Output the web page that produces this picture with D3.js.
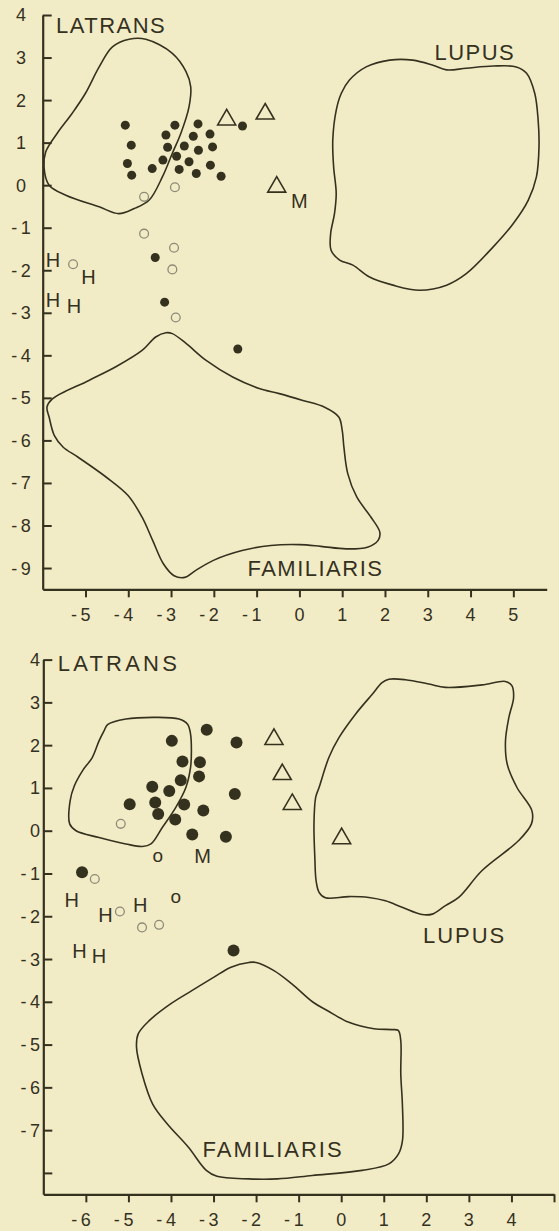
<!DOCTYPE html>
<html>
<head>
<meta charset="utf-8">
<script src="https://cdn.jsdelivr.net/npm/d3@7"></script>
<style>
  html, body { margin: 0; padding: 0; background: #f2ecc6; }
  svg { display: block; }
</style>
</head>
<body>
<svg id="chart" width="559" height="1231"></svg>
<script>
// ---------- Upper plot ----------
const upperXTicks = [-5, -4, -3, -2, -1, 0, 1, 2, 3, 4, 5];
const upperYTicks = [4, 3, 2, 1, 0, -1, -2, -3, -4, -5, -6, -7, -8, -9];

const upperFilled = [
  [-4.07, 1.41], [-3.93, 0.94], [-4.02, 0.51], [-3.92, 0.235], [-3.44, 0.39],
  [-3.19, 0.59], [-3.12, 1.18], [-2.91, 1.41], [-3.08, 0.89], [-2.87, 0.68],
  [-2.81, 0.37], [-2.69, 0.92], [-2.58, 0.55], [-2.48, 1.15], [-2.37, 1.44],
  [-2.36, 0.82], [-2.41, 0.275], [-2.09, 1.2], [-2.03, 0.9], [-2.08, 0.47],
  [-1.83, 0.21], [-1.33, 1.39],
  [-3.37, -1.70], [-3.15, -2.75], [-1.44, -3.85]
];
const upperOpen = [
  [-2.91, -0.05], [-3.63, -0.275], [-3.63, -1.14], [-2.93, -1.47],
  [-2.97, -1.98], [-2.89, -3.11], [-5.29, -1.86]
];
const upperTriangles = [[-1.70, 1.58], [-0.80, 1.72], [-0.53, 0.0]];
const upperLetters = [
  ["H", -5.76, -1.75], ["H", -4.93, -2.16], ["H", -5.76, -2.69], ["H", -5.27, -2.83],
  ["M", 0.0, -0.36]
];

const upperLatrans = [
  [-3.98, 3.43], [-3.59, 3.43], [-2.97, 3.10], [-2.65, 2.67], [-2.54, 2.31],
  [-2.58, 1.84], [-2.77, 1.22], [-2.97, 0.75], [-3.20, 0.20], [-3.51, -0.35],
  [-3.86, -0.55], [-4.22, -0.67], [-4.68, -0.51], [-5.46, -0.235], [-5.85, 0.0],
  [-5.97, 0.43], [-5.93, 0.78], [-5.66, 1.22], [-5.31, 1.69], [-5.0, 2.16],
  [-4.68, 2.78], [-4.37, 3.25]
];
const upperLupus = [
  [2.11, 2.94], [2.65, 2.94], [3.12, 2.82], [3.44, 2.71], [3.90, 2.75],
  [4.53, 2.80], [5.07, 2.78], [5.31, 2.63], [5.50, 2.16], [5.58, 1.53],
  [5.60, 0.90], [5.54, 0.195], [5.35, -0.35], [5.0, -0.90], [4.53, -1.45],
  [3.90, -2.08], [3.44, -2.35], [2.81, -2.47], [2.185, -2.35], [1.64, -2.16],
  [1.25, -1.88], [0.94, -1.76], [0.74, -1.53], [0.73, -1.14], [0.82, -0.67],
  [0.86, -0.195], [0.80, 0.43], [0.78, 1.06], [0.86, 1.76], [0.98, 2.16],
  [1.17, 2.47], [1.56, 2.78]
];
const upperFamiliaris = [
  [-5.90, -5.22], [-5.78, -5.03], [-4.92, -4.59], [-4.29, -4.27], [-3.67, -3.88],
  [-3.36, -3.57], [-3.12, -3.47], [-2.97, -3.49], [-2.65, -3.72], [-2.18, -4.12],
  [-1.56, -4.51], [-0.94, -4.78], [-0.47, -4.90], [0.08, -5.06], [0.59, -5.22],
  [0.92, -5.45], [1.0, -5.76], [1.04, -6.16], [1.13, -6.78], [1.34, -7.33],
  [1.67, -7.80], [1.88, -8.16], [1.84, -8.35], [1.59, -8.51], [1.09, -8.55],
  [0.50, -8.49], [0.0, -8.45], [-0.67, -8.47], [-1.34, -8.59], [-2.01, -8.82],
  [-2.43, -9.06], [-2.68, -9.22], [-2.93, -9.18], [-3.18, -8.90], [-3.43, -8.35],
  [-3.68, -7.80], [-4.01, -7.29], [-4.52, -6.86], [-5.18, -6.39], [-5.52, -6.16],
  [-5.73, -5.88], [-5.85, -5.45]
];
const upperNames = [
  ["LATRANS", -5.69, 3.58], ["LUPUS", 4.10, 2.94], ["FAMILIARIS", 0.375, -9.18]
];

// ---------- Lower plot ----------
const lowerXTicks = [-6, -5, -4, -3, -2, -1, 0, 1, 2, 3, 4, 5];
const lowerXLabels = [-6, -5, -4, -3, -2, -1, 0, 1, 2, 3, 4];
const lowerYTicks = [4, 3, 2, 1, 0, -1, -2, -3, -4, -5, -6, -7, -8];
const lowerYLabels = [4, 3, 2, 1, 0, -1, -2, -3, -4, -5, -6, -7];

const lowerFilled = [
  [-4.97, 0.62], [-4.44, 1.03], [-4.37, 0.66], [-4.30, 0.39], [-4.04, 0.93],
  [-3.98, 2.10], [-3.73, 1.62], [-3.77, 1.18], [-3.69, 0.61], [-3.90, 0.26],
  [-3.32, 1.60], [-3.34, 1.27], [-3.24, 0.47], [-3.50, -0.09], [-3.16, 2.36],
  [-2.46, 2.06], [-2.50, 0.86], [-2.71, -0.14],
  [-6.09, -0.97], [-2.53, -2.80]
];
const lowerOpen = [
  [-5.18, 0.16], [-5.79, -1.13], [-5.20, -1.89], [-4.68, -2.26], [-4.28, -2.20]
];
const lowerTriangles = [[-1.58, 2.18], [-1.385, 1.36], [-1.15, 0.66], [0.01, -0.14]];
const lowerLetters = [
  ["o", -4.31, -0.62], ["o", -3.885, -1.56],
  ["H", -6.33, -1.62], ["H", -5.54, -1.96], ["H", -4.72, -1.73],
  ["H", -6.15, -2.80], ["H", -5.69, -2.92],
  ["M", -3.26, -0.58]
];

const lowerLatrans = [
  [-5.49, 2.48], [-5.06, 2.61], [-4.36, 2.65], [-3.81, 2.61], [-3.61, 2.49],
  [-3.54, 2.26], [-3.52, 1.87], [-3.54, 1.48], [-3.65, 1.01], [-3.89, 0.54],
  [-4.20, 0.08], [-4.47, -0.31], [-4.67, -0.37], [-5.06, -0.31], [-5.69, -0.16],
  [-6.23, 0.0], [-6.38, 0.16], [-6.37, 0.70], [-6.27, 1.05], [-6.08, 1.40],
  [-5.85, 1.71], [-5.69, 2.10], [-5.57, 2.34]
];
const lowerLupus = [
  [1.12, 3.54], [1.51, 3.53], [2.06, 3.43], [2.45, 3.35], [3.31, 3.41],
  [3.86, 3.49], [4.01, 3.39], [4.05, 3.11], [3.94, 2.65], [3.86, 2.10],
  [3.90, 1.56], [4.13, 1.01], [4.48, 0.47], [4.47, 0.16], [4.17, -0.23],
  [3.31, -0.93], [2.76, -1.56], [2.45, -1.75], [2.14, -1.95], [1.90, -1.96],
  [1.43, -1.79], [1.04, -1.64], [0.65, -1.56], [0.18, -1.54], [-0.37, -1.57],
  [-0.52, -1.44], [-0.59, -1.17], [-0.62, -0.62], [-0.64, 0.16], [-0.60, 0.78],
  [-0.52, 1.01], [-0.29, 1.71], [-0.05, 2.18], [0.34, 2.73], [0.73, 3.19],
  [0.96, 3.46]
];
const lowerFamiliaris = [
  [-2.17, -3.08], [-2.0, -3.08], [-1.58, -3.27], [-1.16, -3.58], [-0.66, -4.01],
  [-0.32, -4.21], [0.18, -4.48], [0.77, -4.63], [1.19, -4.65], [1.34, -4.67],
  [1.40, -4.91], [1.40, -5.68], [1.44, -6.46], [1.44, -7.24], [1.35, -7.55],
  [1.12, -7.79], [0.49, -7.94], [-0.68, -8.06], [-1.50, -8.14], [-2.17, -8.14],
  [-2.92, -8.08], [-3.17, -7.94], [-3.59, -7.40], [-4.09, -6.85], [-4.43, -6.39],
  [-4.68, -5.68], [-4.81, -5.06], [-4.77, -4.75], [-4.51, -4.44], [-4.01, -4.05],
  [-3.51, -3.74], [-3.00, -3.43], [-2.59, -3.19]
];
const lowerNames = [
  ["LATRANS", -6.66, 3.74], ["LUPUS", 2.90, -2.62], ["FAMILIARIS", -1.60, -7.63]
];

// ---------- drawing ----------
const INK = "#35311f";
const GREY = "#8d8a78";
const FONT = "'Liberation Sans', Arial, sans-serif";
const svg = d3.select("#chart");

const fmt = v => (v < 0 ? "-\u2009" : "") + Math.abs(v);

function drawPanel(p) {
  const x = d3.scaleLinear().domain(p.xDomain).range(p.xRange);
  const y = d3.scaleLinear().domain(p.yDomain).range(p.yRange);
  const g = svg.append("g");

  // region outlines
  const outline = d3.line().x(d => x(d[0])).y(d => y(d[1]))
    .curve(d3.curveCatmullRomClosed.alpha(0.5));
  [p.latrans, p.lupus, p.familiaris].forEach(poly => {
    g.append("path").attr("d", outline(poly))
      .attr("fill", "none").attr("stroke", INK).attr("stroke-width", 1.6)
      .attr("stroke-linejoin", "round");
  });

  // axes
  const xAxis = g.append("g")
    .attr("transform", `translate(0,${y(p.yDomain[0])})`)
    .call(d3.axisBottom(x).tickValues(p.xTicks).tickSize(8).tickSizeOuter(0).tickFormat(""));
  const yAxis = g.append("g")
    .attr("transform", `translate(${x(p.xDomain[0])},0)`)
    .call(d3.axisLeft(y).tickValues(p.yTicks).tickSize(-9).tickSizeOuter(0).tickFormat(""));
  [xAxis, yAxis].forEach(a => {
    a.select(".domain").attr("stroke", INK).attr("stroke-width", 2.2);
    a.selectAll(".tick line").attr("stroke", INK).attr("stroke-width", 2);
  });

  // tick labels: the digit sits centred under its tick
  g.selectAll(null).data(p.xLabels).join("text")
    .attr("x", d => x(d) + 5).attr("y", y(p.yDomain[0]) + 32)
    .attr("text-anchor", "end")
    .attr("font-family", FONT).attr("font-size", 18).attr("fill", INK)
    .text(fmt);
  g.selectAll(null).data(p.yLabels).join("text")
    .attr("x", p.yLabelX).attr("y", d => y(d)).attr("dy", "0.36em")
    .attr("text-anchor", p.yLabelAnchor)
    .attr("font-family", FONT).attr("font-size", 18).attr("fill", INK)
    .text(fmt);

  // region names
  g.selectAll(null).data(p.names).join("text")
    .attr("x", d => x(d[1])).attr("y", d => y(d[2]))
    .attr("text-anchor", (d, i) => i === 0 ? "start" : "middle")
    .attr("font-family", FONT).attr("font-size", 22)
    .attr("letter-spacing", (d, i) => i === 0 ? p.latransSpacing : p.nameSpacing)
    .attr("fill", INK)
    .text(d => d[0]);

  // open circles
  g.selectAll(null).data(p.open).join("circle")
    .attr("cx", d => x(d[0])).attr("cy", d => y(d[1])).attr("r", 4.4)
    .attr("fill", "none").attr("stroke", GREY).attr("stroke-width", 1.3);

  // filled circles
  g.selectAll(null).data(p.filled).join("circle")
    .attr("cx", d => x(d[0])).attr("cy", d => y(d[1])).attr("r", p.dotR)
    .attr("fill", INK);

  // triangles
  const tri = "M0,-8.5L9,7L-9,7Z";
  g.selectAll(null).data(p.triangles).join("path")
    .attr("d", tri)
    .attr("transform", d => `translate(${x(d[0])},${y(d[1])})`)
    .attr("fill", "none").attr("stroke", INK).attr("stroke-width", 1.6)
    .attr("stroke-linejoin", "miter");

  // letter symbols
  g.selectAll(null).data(p.letters).join("text")
    .attr("x", d => x(d[1])).attr("y", d => y(d[2]))
    .attr("dy", d => d[0] === "o" ? "0.27em" : "0.36em")
    .attr("text-anchor", "middle")
    .attr("font-family", FONT).attr("font-size", d => d[0] === "o" ? 19 : 20)
    .attr("fill", INK)
    .text(d => d[0]);
}

drawPanel({
  xDomain: [-6, 5.78], xRange: [42.7, 546.7],
  yDomain: [-9.5, 4], yRange: [589.3, 15],
  xTicks: upperXTicks, xLabels: upperXTicks,
  yTicks: upperYTicks, yLabels: upperYTicks,
  yLabelX: 21, yLabelAnchor: "middle",
  latrans: upperLatrans, lupus: upperLupus, familiaris: upperFamiliaris,
  names: upperNames, latransSpacing: 1.5, nameSpacing: 1.5,
  filled: upperFilled, open: upperOpen, triangles: upperTriangles,
  letters: upperLetters, dotR: 4.5
});

drawPanel({
  xDomain: [-7, 5], xRange: [43.3, 554],
  yDomain: [-8.5, 4], yRange: [1194.3, 659.6],
  xTicks: lowerXTicks, xLabels: lowerXLabels,
  yTicks: lowerYTicks, yLabels: lowerYLabels,
  yLabelX: 40, yLabelAnchor: "end",
  latrans: lowerLatrans, lupus: lowerLupus, familiaris: lowerFamiliaris,
  names: lowerNames, latransSpacing: 3.2, nameSpacing: 2,
  filled: lowerFilled, open: lowerOpen, triangles: lowerTriangles,
  letters: lowerLetters, dotR: 6
});
</script>
</body>
</html>
